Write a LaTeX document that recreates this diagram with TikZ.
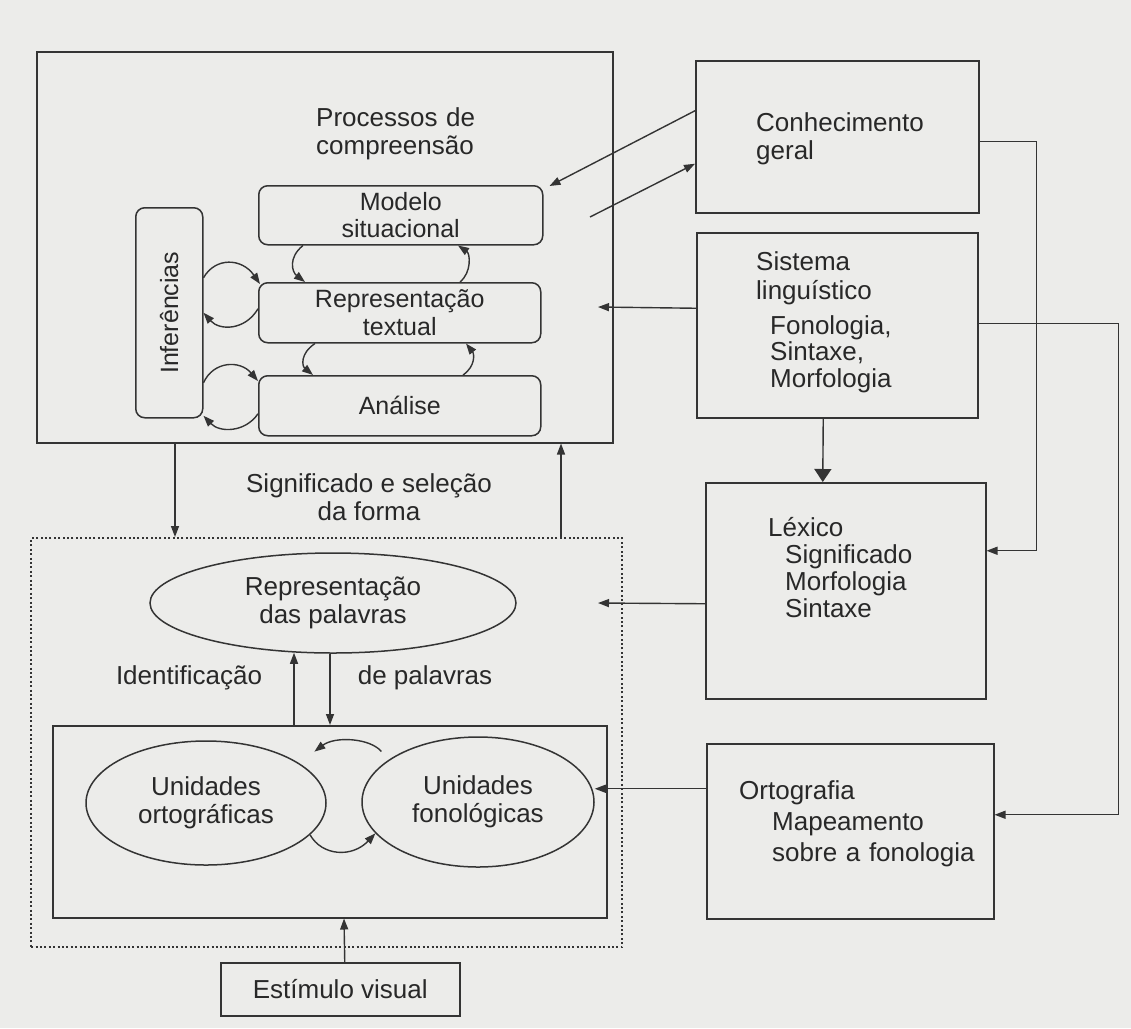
\documentclass[tikz,border=0pt]{standalone}
\usepackage{fontspec}
\setmainfont{Liberation Sans}
\usetikzlibrary{arrows.meta,shapes.geometric,calc}
\definecolor{paper}{RGB}{236,236,234}
\definecolor{ink}{RGB}{52,52,52}
\definecolor{txt}{RGB}{40,40,40}
\begin{document}
\begin{tikzpicture}[x=1pt,y=-1pt,
  every node/.style={font=\fontsize{26}{28.5}\selectfont, text=txt},
  box/.style={draw=ink, line width=1.5pt, inner sep=0pt, anchor=north west},
  rbox/.style={box, rounded corners=9pt, align=center, font=\fontsize{25}{27.5}\selectfont},
  dotbox/.style={box, line width=2.2pt, dash pattern=on 2pt off 2.4pt},
  oval/.style={ellipse, draw=ink, line width=1.5pt, inner sep=0pt, align=center},
  blocktext/.style={anchor=base west, inner sep=0pt, text width=300pt, align=left},
  arr/.style={draw=ink, line width=1.4pt, -{Triangle[length=11pt,width=8pt]}},
  bigarr/.style={draw=ink, line width=1.4pt, -{Triangle[length=13pt,width=17pt]}}
]
% paper
\fill[paper] (0,0) rectangle (1131,1028);
\useasboundingbox (0,0) rectangle (1131,1028);

% comprehension processes
\node[box, minimum width=576pt, minimum height=391pt] (comp) at (36,51) {};
\node[blocktext] (proc) at (316,126) {Processos de\\compreensão};
\node[rbox, minimum width=284pt, minimum height=59pt] (modelo) at (258,185) {Modelo\\situacional};
\node[rbox, minimum width=282pt, minimum height=60pt] (repr) at (258,282) {Representação\\textual};
\node[rbox, minimum width=282pt, minimum height=60pt] (anal) at (258,375) {Análise};
\node[rbox, minimum width=67pt, minimum height=210pt] (inf) at (135,207) {};
\node[rotate=90, font=\fontsize{25}{27.5}\selectfont] (inflab) at (inf.center) {Inferências};

% knowledge sources
\node[box, minimum width=283pt, minimum height=152pt] (conh) at (695,60) {};
\node[blocktext] (conhlab) at (756,131) {Conhecimento\\geral};
\node[box, minimum width=281pt, minimum height=185pt] (sist) at (696,232) {};
\node[blocktext, font=\fontsize{26}{29}\selectfont] (sistlab) at (756,270) {Sistema\\linguístico};
\node[blocktext, font=\fontsize{26}{26.5}\selectfont] (sistsub) at (770,334) {Fonologia,\\Sintaxe,\\Morfologia};
\node[box, minimum width=280pt, minimum height=216pt] (lex) at (705,482) {};
\node[blocktext, font=\fontsize{26}{27}\selectfont] (lexlab) at (768,536)
  {Léxico\\\hspace*{17pt}Significado\\\hspace*{17pt}Morfologia\\\hspace*{17pt}Sintaxe};
\node[box, minimum width=287pt, minimum height=175pt] (orto) at (706,743) {};
\node[blocktext, font=\fontsize{26}{31}\selectfont] (ortolab) at (739,799)
  {Ortografia\\\hspace*{33pt}Mapeamento\\\hspace*{33pt}sobre a fonologia};

% word identification
\node[align=center] (sig) at (369,497) {Significado e seleção\\da forma};
\node[dotbox, minimum width=591pt, minimum height=409pt] (wordbox) at (30,537) {};
\node[oval, minimum width=366pt, minimum height=100pt] (repw) at (333,603) {Representação\\das palavras};
\node (ident) at (189,678) {Identificação};
\node (depal) at (425,678) {de palavras};
\node[box, minimum width=554pt, minimum height=192pt] (units) at (52,725) {};
\node[oval, minimum width=240pt, minimum height=124pt] (ortu) at (206,803) {Unidades\\ortográficas};
\node[oval, minimum width=232pt, minimum height=130pt] (fon) at (478,802) {Unidades\\fonológicas};
\node[box, minimum width=239pt, minimum height=53pt] (est) at (220,962) {};
\node (estlab) at (est.center) {Estímulo visual};

% free ends
\coordinate (kstart) at (590,217);
\coordinate (sysin) at (598,307);
\coordinate (lexin) at (598,603);

% levels of the text model
\draw[arr] ($(modelo.south west)+(45,0)$) .. controls ($(modelo.south west)+(30,12)$) and ($(repr.north west)+(34,-10)$) .. ($(repr.north west)+(47,0)$);
\draw[arr] ($(repr.north west)+(202,0)$) .. controls ($(repr.north west)+(214,-10)$) and ($(modelo.south west)+(212,8)$) .. ($(modelo.south west)+(200,0)$);
\draw[arr] ($(repr.south west)+(57,0)$) .. controls ($(repr.south west)+(42,10)$) and ($(anal.north west)+(44,-9)$) .. ($(anal.north west)+(55,0)$);
\draw[arr] ($(anal.north west)+(205,0)$) .. controls ($(anal.north west)+(218,-9)$) and ($(repr.south west)+(216,10)$) .. ($(repr.south west)+(208,0)$);

% inferences
\draw[arr] ($(inf.east)+(0,-35)$) .. controls ($(inf.east)+(12,-56)$) and ($(repr.north west)+(-16,-24)$) .. ($(repr.north west)+(2,2)$);
\draw[arr] ($(repr.west)+(0,-4)$) .. controls ($(repr.west)+(-13,18)$) and ($(inf.east)+(16,18)$) .. (inf.east);
\draw[arr] ($(inf.east)+(0,70)$) .. controls ($(inf.east)+(10,48)$) and ($(anal.north west)+(-18,-15)$) .. ($(anal.north west)+(0,6)$);
\draw[arr] ($(anal.west)+(0,8)$) .. controls ($(anal.west)+(-13,27)$) and ($(inf.east)+(16,120)$) .. ($(inf.east)+(0,103)$);

% general knowledge
\draw[arr] ($(conh.west)+(0,-26)$) -- ($(modelo.north east)+(6,1)$);
\draw[arr] (kstart) -- ($(conh.west)+(0,27)$);

% linguistic system
\draw[arr] ($(sist.west)+(0,-17)$) -- (sysin);
\draw[bigarr] ($(sist.south)+(-14,0)$) -- ($(lex.north)+(-23,0)$);
\draw[arr] ($(conh.east)+(0,5)$) -- ++(57,0) |- ($(lex.east)+(0,-40)$);
\draw[arr] ($(sist.east)+(0,-2)$) -- ++(140,0) |- ($(orto.east)+(0,-16.5)$);
\draw[arr] ($(lex.west)+(0,13)$) -- (lexin);
\draw[arr] ($(orto.west)+(0,-42.5)$) coordinate (ofrom) -- (ofrom -| fon.east);

% meaning and form selection
\draw[arr] ($(comp.south west)+(139,0)$) -- ($(wordbox.north west)+(145,0)$);
\draw[arr] ($(wordbox.north west)+(531,0)$) -- ($(comp.south west)+(525,0)$);

% word identification
\draw[arr] ($(units.north west)+(242,0)$) -- ($(repw.south)+(-39,-1)$);
\draw[arr] ($(repw.south)+(-3,0)$) -- ($(units.north west)+(278,0)$);
\draw[arr] ($(fon.north west)+(-14,-4)$) .. controls (370,738) and (335,736) .. ($(ortu.north east)+(23,-7)$);
\draw[arr] (ortu.-17) .. controls (322,856) and (352,858) .. (fon.197);
\draw[arr] ($(est.north)+(4.5,0)$) -- ($(units.south west)+(292,0)$);
\end{tikzpicture}
\end{document}
